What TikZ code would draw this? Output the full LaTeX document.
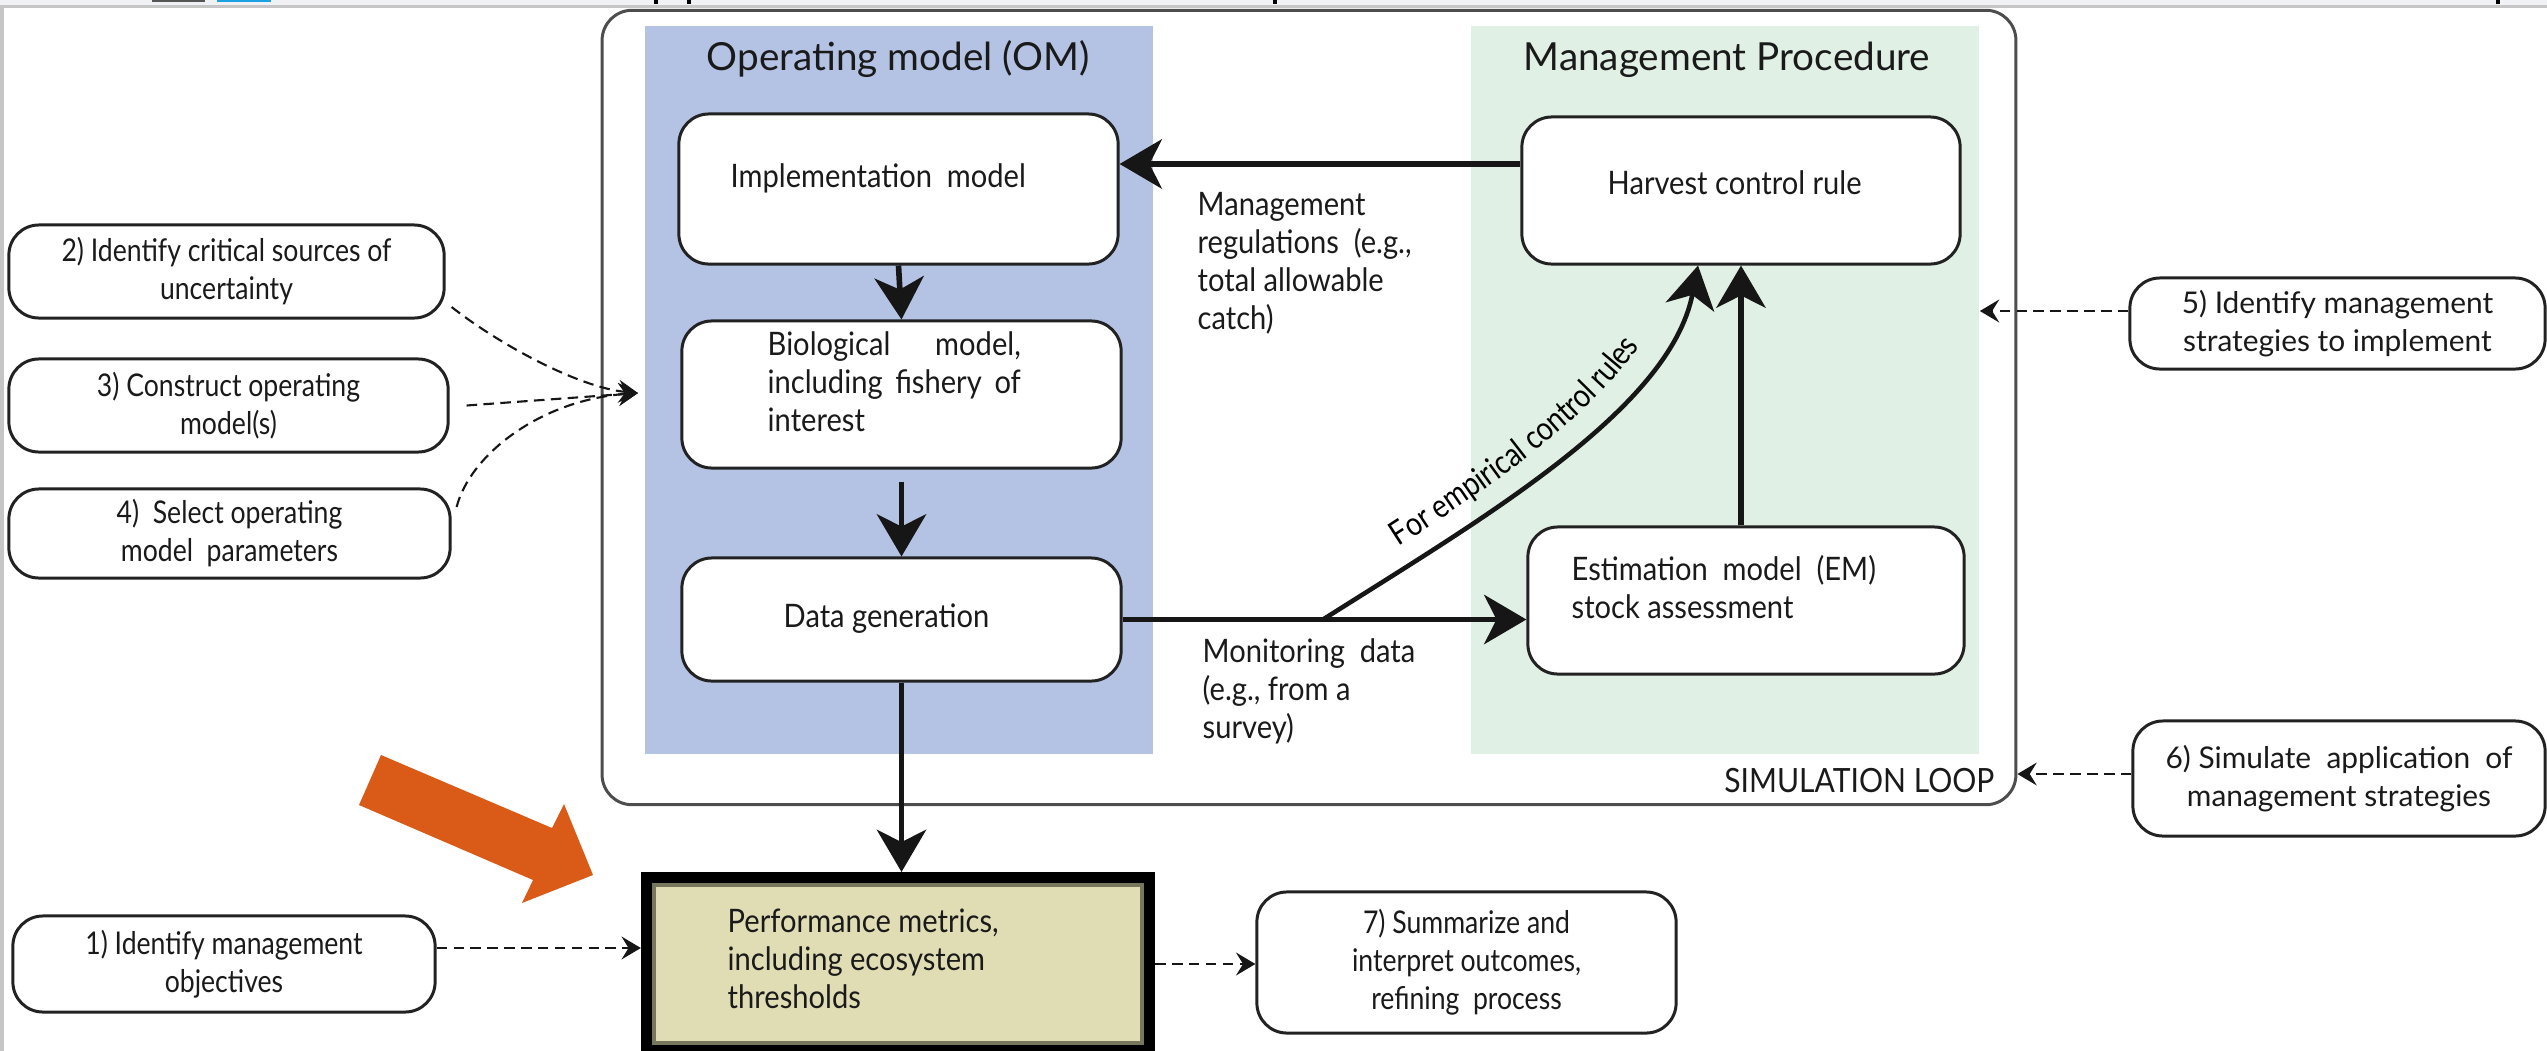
\documentclass[tikz,border=0pt]{standalone}
\usepackage{fontspec}
\setmainfont{Lato}
\newfontfamily\cf[FakeStretch=0.85]{Lato}
\newfontfamily\tf[FakeStretch=0.9]{Lato}
\usetikzlibrary{arrows.meta,calc,decorations.text}
\definecolor{omblue}{HTML}{B4C3E4}
\definecolor{mpgreen}{HTML}{E0F0E5}
\definecolor{perffill}{HTML}{E0DDB5}
\definecolor{perfinner}{HTML}{77775E}
\definecolor{orangec}{HTML}{DA5B18}
\definecolor{loopc}{HTML}{4D4D4D}
\definecolor{txtc}{HTML}{1A1A1A}
\definecolor{boxline}{HTML}{222222}
\definecolor{arrowc}{HTML}{161616}
\definecolor{barlight}{HTML}{F0F1F4}
\definecolor{bargray}{HTML}{C6C6C6}
\definecolor{icondark}{HTML}{555555}
\definecolor{iconblue}{HTML}{1BA1E2}
\tikzset{
  box/.style={draw=boxline, line width=0.85pt, rounded corners=0.3cm, fill=white, inner sep=0pt},
  sidebox/.style={box, font=\cf\fontsize{8.9}{10.8}\selectfont, align=center, text=txtc},
  sideboxw/.style={box, font=\fontsize{8.5}{11}\selectfont, align=center, text=txtc},
  txt/.style={font=\tf\fontsize{9.2}{10.8}\selectfont, inner sep=0pt, text=txtc},
  ttl/.style={font=\fontsize{11}{13}\selectfont, inner sep=0pt, text=txtc},
  conn/.style={line width=1.6pt, draw=arrowc, -{Stealth[length=12pt,width=14pt,inset=3.5pt]}},
  dasharr/.style={line width=0.6pt, draw=arrowc, dash pattern=on 3pt off 1.8pt, -{Stealth[length=5.5pt,width=6.5pt,inset=2pt]}},
  panel/.style={inner sep=0pt, draw=none, minimum width=5.08cm, minimum height=7.28cm},
}
\begin{document}
\begin{tikzpicture}[x=0.01cm, y=-0.01cm]
\useasboundingbox (0,0) rectangle (2547,1051);
% screenshot frame
\fill[barlight] (0,0) rectangle (2547,5);
\fill[bargray] (0,5) rectangle (2547,8);
\fill[bargray] (0,8) rectangle (4,1051);
\fill[icondark] (152,0) rectangle (205,2);
\fill[iconblue] (217,0) rectangle (271,2);
\fill[black] (654,0) rectangle (658,4);
\fill[black] (687,0) rectangle (691,4);
\fill[black] (1273,0) rectangle (1277,4);
\fill[black] (2496,0) rectangle (2500,4);

% simulation loop frame and panels
\node[draw=loopc, line width=0.85pt, rounded corners=0.3cm, minimum width=14.13cm, minimum height=7.94cm, inner sep=0pt] (loop) at (1309,407.5) {};
\node[panel, fill=omblue] (om) at (899,390) {};
\node[panel, fill=mpgreen] (mp) at (1725,390) {};
\node[ttl, anchor=base] (omtitle) at (898,70) {Operating model (OM)};
\node[ttl, anchor=base] (mptitle) at (1727,70) {Management Procedure};
\node[font=\tf\fontsize{9.5}{11}\selectfont, text=txtc, inner sep=0pt, anchor=base east] (simlbl) at (1995,792) {SIMULATION LOOP};

% inner boxes
\node[box, minimum width=4.39cm, minimum height=1.50cm] (impl) at (898.5,189) {};
\node[box, minimum width=4.39cm, minimum height=1.47cm] (bio) at (901.5,394.5) {};
\node[box, minimum width=4.39cm, minimum height=1.23cm] (data) at (901.5,619.5) {};
\node[box, minimum width=4.38cm, minimum height=1.47cm] (hcr) at (1741,190.5) {};
\node[box, minimum width=4.36cm, minimum height=1.47cm] (em) at (1746,600.5) {};

% (multi-line nodes: base anchor = baseline of last line)
\node[txt, anchor=base west] (impltxt) at (730,187) {Implementation\ \ model};
\node[txt, anchor=base west, align=left] (biotxt) at (767,431) {\hbox to 2.53cm{Biological\hfill model,}\\\hbox to 2.53cm{including\hfill fishery\hfill of}\\interest};
\node[txt, anchor=base west] (datatxt) at (783,627) {Data generation};
\node[txt, anchor=base west] (hcrtxt) at (1607,194) {Harvest control rule};
\node[txt, anchor=base west, align=left] (emtxt) at (1571,618) {Estimation\ \ model\ \ (EM)\\stock assessment};
\node[txt, anchor=base west, align=left] (mgmtlbl) at (1197,329) {Management\\regulations\ \ (e.g.,\\total allowable\\catch)};
\node[txt, anchor=base west, align=left] (monlbl) at (1202,738) {Monitoring\ \ data\\(e.g., from a\\survey)};

% performance box
\node[draw=black, line width=3.4pt, fill=perffill, minimum width=5.02cm, minimum height=1.72cm, inner sep=0pt] (perf) at (898,964) {};
\draw[perfinner, line width=1pt] ($(perf.north west)+(13,13)$) rectangle ($(perf.south east)+(-13,-13)$);
\node[txt, anchor=base west, align=left] (perftxt) at (727,1008) {Performance metrics,\\including ecosystem\\thresholds};

% side boxes
\node[sidebox, minimum width=4.22cm, minimum height=0.96cm] (b1) at (224,964) {1) Identify management\\objectives};
\node[sidebox, minimum width=4.35cm, minimum height=0.93cm] (b2) at (226.5,271.5) {2) Identify critical sources of\\uncertainty};
\node[sidebox, minimum width=4.39cm, minimum height=0.93cm] (b3) at (228.5,405.5) {3) Construct operating\\model(s)};
\node[sidebox, minimum width=4.41cm, minimum height=0.89cm] (b4) at (229.5,533.5) {4)\ \ Select operating\\model\ \ parameters};
\node[sideboxw, minimum width=4.15cm, minimum height=0.91cm] (b5) at (2337.5,323.5) {5) Identify management\\strategies to implement};
\node[sideboxw, minimum width=4.12cm, minimum height=1.15cm] (b6) at (2339,778.5) {6) Simulate\ \ application\ \ of\\management strategies};
\node[sidebox, minimum width=4.19cm, minimum height=1.41cm] (b7) at (1466.5,962.5) {7) Summarize and\\interpret outcomes,\\refining\ \ process};

% orange highlight arrow
\fill[orangec] (381,755) -- (552,828) -- (564,804) -- (593,875) -- (522,903) -- (533,880) -- (359,805) -- cycle;

% solid connectors
\coordinate (m1) at ([yshift=0.265cm]hcr.west);
\draw[conn] (m1) -- (m1 -| impl.east);
\draw[conn] (impl.south) -- (bio.north);
\draw[conn, shorten <=0.12cm] (bio.south) -- (data.north);
\draw[conn] (data.east) -- (data.east -| em.west);
\draw[conn] (em.north -| hcr.south) -- (hcr.south);
\draw[conn] (data.south) -- (data.south |- perf.north);
\coordinate (fork) at (1323,619.5);
\coordinate (hcrin) at ($(hcr.south)+(-43,0)$);
\draw[conn, line width=1.3pt] (fork) .. controls (1480,520) and (1670,410) .. (hcrin);
\path[decorate, decoration={text along path, text={|\cf\fontsize{9.4}{10}\selectfont|For empirical control rules}, text align=center, raise=6pt}] (fork) .. controls (1480,520) and (1670,410) .. (hcrin);

% dashed connectors
\coordinate (omin) at (638,393);
\draw[dasharr] ([xshift=0.06cm,yshift=-0.355cm]b2.east) .. controls (500,345) and (580,388) .. (omin);
\draw[dasharr] ([xshift=0.17cm]b3.east) -- (omin);
\draw[dasharr] ([xshift=0.05cm,yshift=0.265cm]b4.east) .. controls (470,455) and (540,400) .. (omin);
\coordinate (b1o) at ([yshift=0.16cm]b1.east);
\draw[dasharr] (b1o) -- (b1o -| perf.west);
\draw[dasharr] (perf.east) -- (perf.east -| b7.west);
\coordinate (b5o) at ([yshift=0.125cm]b5.west);
\draw[dasharr] (b5o) -- (b5o -| mp.east);
\coordinate (b6o) at ([yshift=0.045cm]b6.west);
\draw[dasharr] (b6o) -- (b6o -| loop.east);
\end{tikzpicture}
\end{document}
